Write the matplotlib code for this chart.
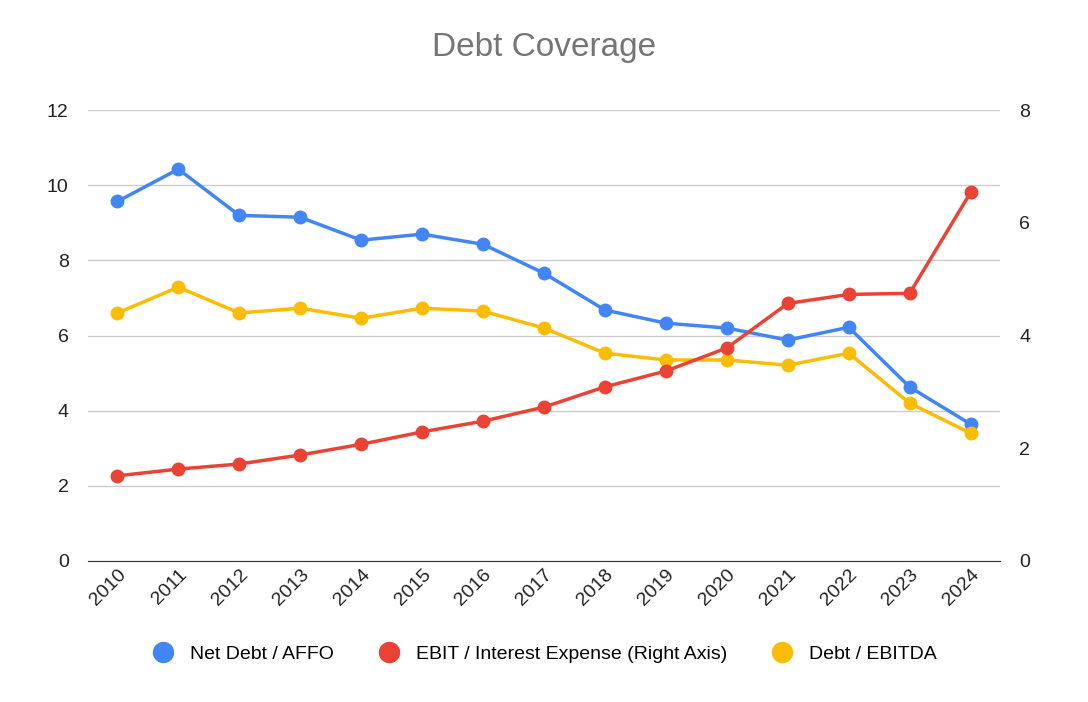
import numpy as np
import matplotlib.pyplot as plt

years = list(range(2010, 2025))
net_debt_affo = [9.57, 10.43, 9.2, 9.15, 8.54, 8.7, 8.43, 7.66, 6.68, 6.33, 6.2, 5.88, 6.22, 4.63, 3.64]
debt_ebitda = [6.6, 7.29, 6.6, 6.73, 6.46, 6.73, 6.65, 6.2, 5.53, 5.35, 5.35, 5.21, 5.53, 4.2, 3.4]
ebit_interest = [1.51, 1.63, 1.72, 1.88, 2.07, 2.29, 2.48, 2.73, 3.09, 3.37, 3.78, 4.57, 4.73, 4.75, 6.54]

plt.rcParams['font.family'] = ['Liberation Sans', 'DejaVu Sans']
fig = plt.figure(figsize=(10.88, 7.02), dpi=100)
ax = fig.add_axes([0.081, 0.201, 0.838, 0.642])
ax2 = ax.twinx()

blue, red, yellow = '#4285f4', '#ea4335', '#fbbc04'
l1, = ax.plot(years, net_debt_affo, color=blue, lw=2.5, marker='o', ms=9, label='Net Debt / AFFO', zorder=3)
l3, = ax.plot(years, debt_ebitda, color=yellow, lw=2.5, marker='o', ms=9, label='Debt / EBITDA', zorder=3)
l2, = ax2.plot(years, ebit_interest, color=red, lw=2.5, marker='o', ms=9, label='EBIT / Interest Expense (Right Axis)')

ax.set_xlim(2009.52, 2024.48)
ax.set_ylim(0, 12)
ax2.set_ylim(0, 8)
ax.set_yticks(range(0, 13, 2))
ax2.set_yticks(range(0, 9, 2))
ax.grid(axis='y', color='#cccccc', lw=1)
ax.set_xticks(years)
ax.set_xticklabels([str(y) for y in years], rotation=45, ha='right', rotation_mode='anchor')
for a in (ax, ax2):
    for s in a.spines.values():
        s.set_visible(False)
    a.tick_params(length=0, labelsize=14, colors='#222222')
ax.spines['bottom'].set_visible(True)
ax.spines['bottom'].set_color('#333333')
ax.tick_params(axis='y', pad=14)
ax2.tick_params(axis='y', pad=14)

fig.suptitle('Debt Coverage', x=0.5, y=0.955, fontsize=24, color='#757575')
fig.legend([l1, l2, l3], [l1.get_label(), l2.get_label(), l3.get_label()],
           loc='center', bbox_to_anchor=(0.5, 0.068), ncol=3, frameon=False,
           fontsize=14, markerscale=1.6, handlelength=1.2, columnspacing=2.2,
           handler_map=None)
for h in fig.legends[0].legend_handles:
    h.set_linestyle('None')

fig.savefig('out.png', dpi=100, facecolor='w')
